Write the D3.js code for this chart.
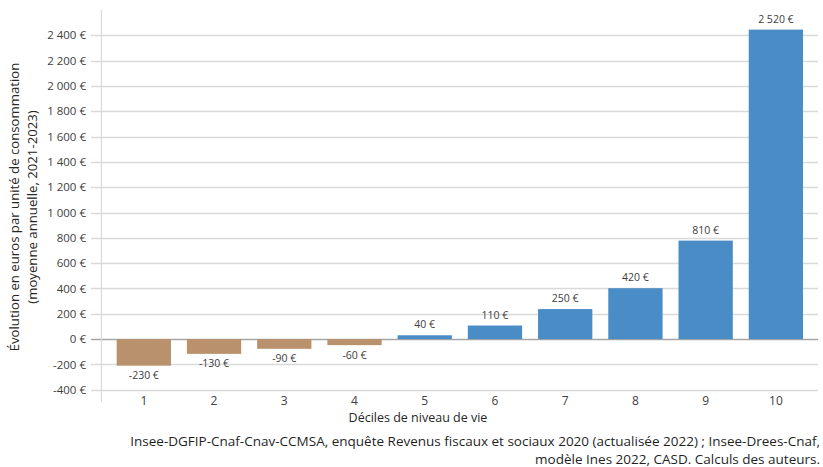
<!DOCTYPE html>
<html>
<head>
<meta charset="utf-8">
<script src="https://cdn.jsdelivr.net/npm/d3@7/dist/d3.min.js"></script>
<style>
  html, body { margin: 0; padding: 0; background: #fff; }
  svg { display: block; font-family: "Open Sans", "Noto Sans", sans-serif; }
</style>
</head>
<body>
<svg id="chart" width="823" height="467"></svg>
<script>
// Data
const categories = ["1", "2", "3", "4", "5", "6", "7", "8", "9", "10"];
const values = [-210, -117, -77, -48, 30, 107, 237, 402, 778, 2445];
const valueLabels = ["-230 €", "-130 €", "-90 €", "-60 €", "40 €", "110 €", "250 €", "420 €", "810 €", "2 520 €"];
const yTicks = [-400, -200, 0, 200, 400, 600, 800, 1000, 1200, 1400, 1600, 1800, 2000, 2200, 2400];
const yTickLabels = ["-400 €", "-200 €", "0 €", "200 €", "400 €", "600 €", "800 €", "1 000 €", "1 200 €", "1 400 €", "1 600 €", "1 800 €", "2 000 €", "2 200 €", "2 400 €"];
const yTitle = ["Évolution en euros par unité de consommation", "(moyenne annuelle, 2021-2023)"];
const xTitle = "Déciles de niveau de vie";
const source = ["Insee-DGFIP-Cnaf-Cnav-CCMSA, enquête Revenus fiscaux et sociaux 2020 (actualisée 2022) ; Insee-Drees-Cnaf,",
                "modèle Ines 2022, CASD. Calculs des auteurs."];

const svg = d3.select("#chart");

const y = d3.scaleLinear().domain([-400, 2400]).range([389.7, 35.3]);
const x = d3.scaleBand().domain(categories).range([108.7, 811]).paddingInner(0.227).paddingOuter(0.1135);

// Gridlines
const grid = svg.append("g");
grid.selectAll("line").data(yTicks).join("line")
  .attr("x1", 91).attr("x2", 818)
  .attr("y1", d => Math.round(y(d)) + 0.5).attr("y2", d => Math.round(y(d)) + 0.5)
  .attr("stroke", d => d === 0 ? "#a6a6a6" : "#d9d9d9")
  .attr("stroke-width", 1.4);

// Vertical axis line
svg.append("line").attr("x1", 101.5).attr("x2", 101.5).attr("y1", 10).attr("y2", 402)
  .attr("stroke", "#d9d9d9").attr("stroke-width", 1.2);

// Y axis labels
const yAxis = d3.axisLeft(y).tickValues(yTicks).tickSize(0).tickPadding(0)
  .tickFormat((d, i) => yTickLabels[i]);
const yg = svg.append("g").attr("transform", "translate(86,0)").call(yAxis);
yg.select(".domain").remove();
yg.selectAll("text").attr("font-size", 11.5).attr("fill", "#404040")
  .attr("font-family", "Open Sans, sans-serif");

// Bars
svg.append("g").selectAll("rect").data(values).join("rect")
  .attr("x", (d, i) => x(categories[i]))
  .attr("width", x.bandwidth())
  .attr("y", d => Math.min(y(d), y(0)))
  .attr("height", d => Math.abs(y(d) - y(0)))
  .attr("fill", d => d < 0 ? "#b9916c" : "#4a8cc6");

// Value labels
svg.append("g").selectAll("text").data(values).join("text")
  .attr("x", (d, i) => x(categories[i]) + x.bandwidth() / 2)
  .attr("y", d => d < 0 ? y(d) + 13.5 : y(d) - 7)
  .attr("text-anchor", "middle")
  .attr("font-size", 10.5).attr("fill", "#404040")
  .text((d, i) => valueLabels[i]);

// X axis labels
const xAxis = d3.axisBottom(x).tickSize(0).tickPadding(0);
const xg = svg.append("g").attr("transform", "translate(0,396)").call(xAxis);
xg.select(".domain").remove();
xg.selectAll("text").attr("font-size", 12).attr("fill", "#404040")
  .attr("font-family", "Open Sans, sans-serif").attr("dy", "0.71em").attr("y", 0);

// X title
svg.append("text").attr("x", 418).attr("y", 422).attr("text-anchor", "middle")
  .attr("font-size", 12.5).attr("fill", "#262626").text(xTitle);

// Y title
const yt = svg.append("text").attr("transform", "translate(0,207) rotate(-90)")
  .attr("text-anchor", "middle").attr("font-size", 13.2).attr("fill", "#262626");
yt.append("tspan").attr("x", 0).attr("y", 19).text(yTitle[0]);
yt.append("tspan").attr("x", 0).attr("y", 37).text(yTitle[1]);

// Source
svg.append("g").selectAll("text").data(source).join("text")
  .attr("x", 820).attr("y", (d, i) => 446 + i * 18)
  .attr("text-anchor", "end").attr("font-size", 13.5).attr("fill", "#1f1f1f")
  .text(d => d);
</script>
</body>
</html>
